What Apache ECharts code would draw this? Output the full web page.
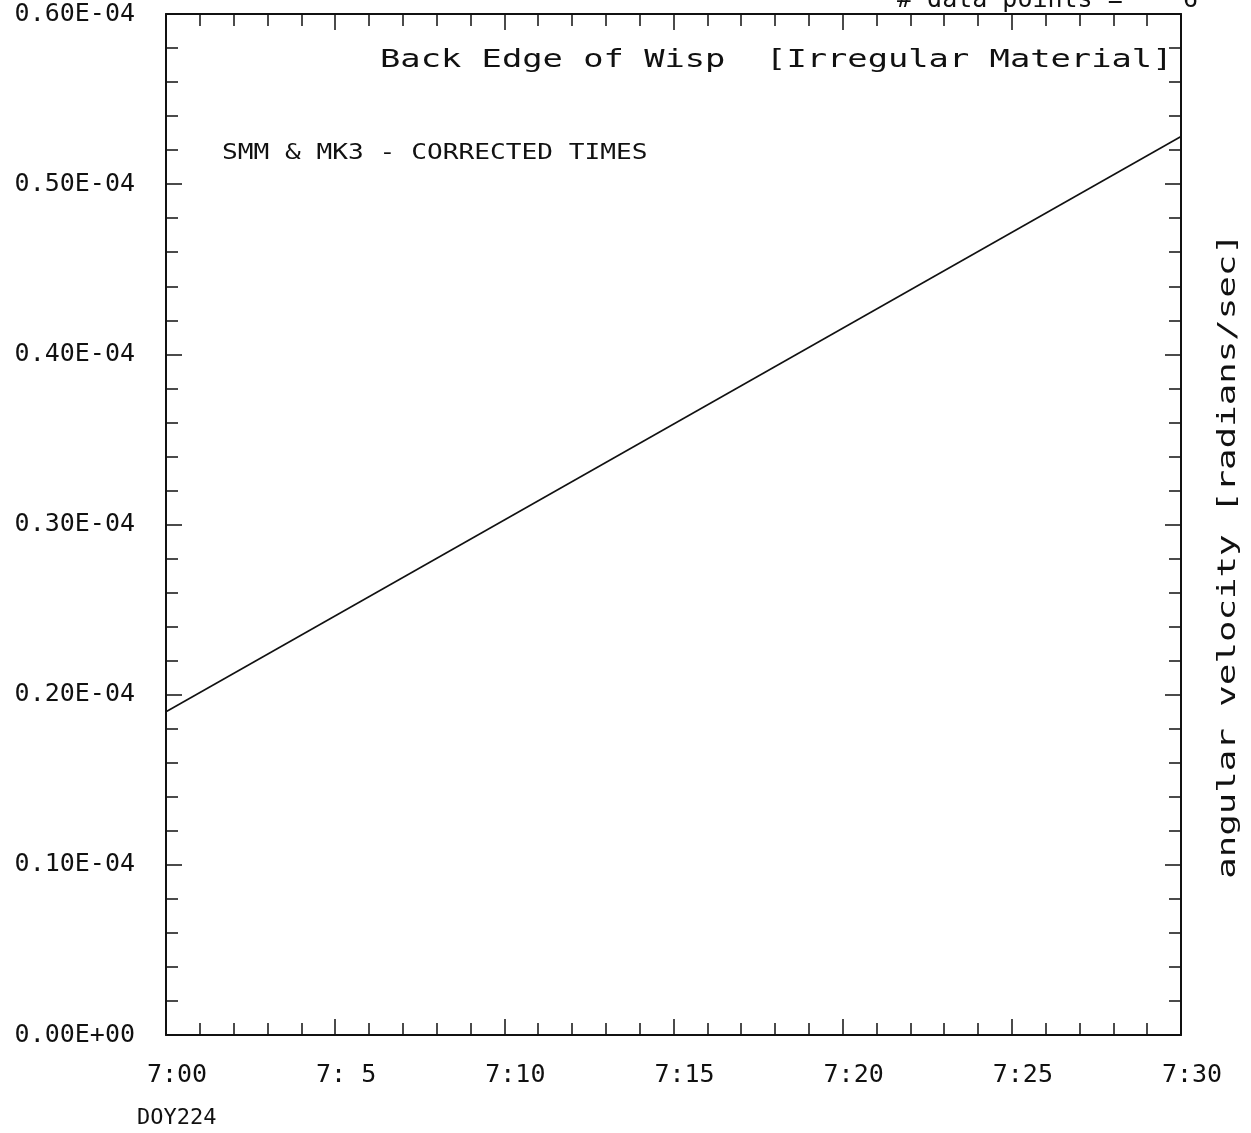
<!DOCTYPE html>
<html>
<head>
<meta charset="utf-8">
<script src="https://cdn.jsdelivr.net/npm/echarts@6/dist/echarts.min.js"></script>
<style>
html,body{margin:0;padding:0;background:#fff;}
#chart{width:1251px;height:1133px;}
</style>
</head>
<body>
<div id="chart"></div>
<script>
// Data (time in minutes after 7:00 UT, angular velocity in rad/s)
const timeMinutes = [0, 30];
const angularVelocity = [1.90e-5, 5.28e-5];
const xTickValues = [0, 5, 10, 15, 20, 25, 30];
const xTickLabels = ['7:00', '7: 5', '7:10', '7:15', '7:20', '7:25', '7:30'];
const yTickValues = [0, 1e-5, 2e-5, 3e-5, 4e-5, 5e-5, 6e-5];
const yTickLabels = ['0.00E+00', '0.10E-04', '0.20E-04', '0.30E-04', '0.40E-04', '0.50E-04', '0.60E-04'];
const titleText = 'Back Edge of Wisp  [Irregular Material]';
const noteText = 'SMM & MK3 - CORRECTED TIMES';
const yAxisName = 'angular velocity [radians/sec]';
const dayText = 'DOY224';
const pointsText = '# data points =    6';

const FONT = '"DejaVu Sans Mono", "Liberation Mono", monospace';
const INK = '#111';

const lineData = timeMinutes.map((t, i) => [t, angularVelocity[i]]);

function nearestIndex(arr, v) {
  let best = 0;
  for (let i = 1; i < arr.length; i++) if (Math.abs(arr[i] - v) < Math.abs(arr[best] - v)) best = i;
  return best;
}

const axisCommon = {
  type: 'value',
  axisLine: { show: true, onZero: false, lineStyle: { color: INK, width: 2 } },
  axisTick: { show: true, inside: true, length: 16, lineStyle: { color: INK, width: 1.5 } },
  minorTick: { show: true, splitNumber: 5, length: 12, lineStyle: { color: INK, width: 1.5 } },
  splitLine: { show: false },
  minorSplitLine: { show: false }
};

const chart = echarts.init(document.getElementById('chart'), null, { renderer: 'canvas' });
chart.setOption({
  animation: false,
  backgroundColor: '#fff',
  grid: { left: 166, right: 70, top: 14, bottom: 98, containLabel: false },
  xAxis: [
    Object.assign({}, axisCommon, {
      position: 'bottom', min: 0, max: 30, interval: 5,
      axisLabel: {
        show: true, margin: 28, color: INK, fontFamily: FONT, fontSize: 25,
        padding: [0, 0, 0, 22],
        formatter: v => xTickLabels[nearestIndex(xTickValues, v)]
      }
    }),
    Object.assign({}, axisCommon, {
      position: 'top', min: 0, max: 30, interval: 5,
      axisLabel: { show: false }
    })
  ],
  yAxis: [
    Object.assign({}, axisCommon, {
      position: 'left', min: 0, max: 6e-5, interval: 1e-5,
      axisLabel: {
        show: true, margin: 31, color: INK, fontFamily: FONT, fontSize: 25,
        formatter: v => yTickLabels[nearestIndex(yTickValues, v)]
      }
    }),
    Object.assign({}, axisCommon, {
      position: 'right', min: 0, max: 6e-5, interval: 1e-5,
      axisLabel: { show: false }
    })
  ],
  series: [{
    type: 'line',
    xAxisIndex: 0, yAxisIndex: 0,
    data: lineData,
    showSymbol: false,
    lineStyle: { color: INK, width: 1.6 },
    silent: true
  }],
  graphic: [
    { type: 'text', x: 380, y: 60, scaleX: 1.35, silent: true,
      style: { text: titleText, x: 0, y: 0, font: '25px ' + FONT, fill: INK, textAlign: 'left', textVerticalAlign: 'middle' } },
    { type: 'text', x: 222, y: 153, scaleX: 1.19, silent: true,
      style: { text: noteText, x: 0, y: 0, font: '22px ' + FONT, fill: INK, textAlign: 'left', textVerticalAlign: 'middle' } },
    { type: 'text', x: 1228, y: 556, rotation: Math.PI / 2, scaleX: 1.43, silent: true,
      style: { text: yAxisName, x: 0, y: 0, font: '25px ' + FONT, fill: INK, textAlign: 'center', textVerticalAlign: 'middle' } },
    { type: 'text', x: 137, y: 1118, silent: true,
      style: { text: dayText, x: 0, y: 0, font: '22px ' + FONT, fill: INK, textAlign: 'left', textVerticalAlign: 'middle' } },
    { type: 'text', x: 897, y: 0, silent: true,
      style: { text: pointsText, x: 0, y: 0, font: '25px ' + FONT, fill: INK, textAlign: 'left', textVerticalAlign: 'middle' } }
  ]
});
</script>
</body>
</html>
